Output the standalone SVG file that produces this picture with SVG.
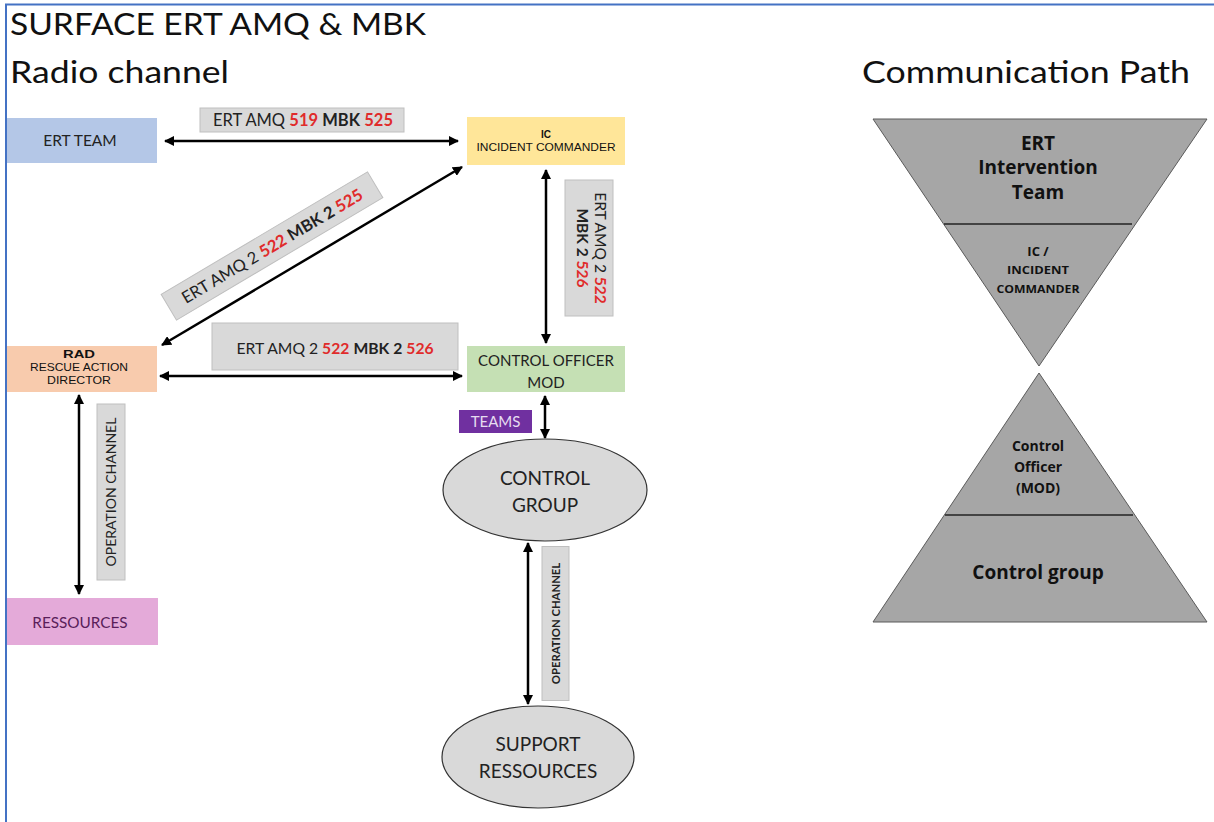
<svg xmlns="http://www.w3.org/2000/svg" width="1214" height="822" viewBox="0 0 1214 822">
<defs>
<marker id="ah" viewBox="0 0 10 10" refX="9" refY="5" markerWidth="4" markerHeight="4" orient="auto-start-reverse" markerUnits="strokeWidth">
<path d="M0,0 L10,5 L0,10 z" fill="#000"/>
</marker>
<style>
.lato{font-family:Lato,"Open Sans","Liberation Sans",sans-serif}
.os{font-family:"Open Sans","Liberation Sans",sans-serif}
.ar{font-family:"Liberation Sans",Arial,sans-serif}
.lbl{fill:#d9d9d9;stroke:#bfbfbf;stroke-width:1}
.red{fill:#e02b2b;font-weight:bold}
.b{font-weight:bold}
.con{stroke:#000;stroke-width:2.5;fill:none;marker-start:url(#ah);marker-end:url(#ah)}
.tri{fill:#a6a6a6;stroke:#5a5a5a;stroke-width:1}
</style>
</defs>
<rect width="1214" height="822" fill="#fff"/>
<path d="M6,822 V4.5 H1214" fill="none" stroke="#4472c4" stroke-width="2"/>

<g id="titles" class="lato" fill="#111">
<text x="10" y="35" font-size="30" textLength="416" lengthAdjust="spacingAndGlyphs">SURFACE ERT AMQ &amp; MBK</text>
<text x="10" y="83" font-size="30" textLength="219" lengthAdjust="spacingAndGlyphs">Radio channel</text>
<text x="862" y="83" font-size="30" textLength="328" lengthAdjust="spacingAndGlyphs">Communication Path</text>
</g>

<g id="connectors">
<line class="con" x1="165" y1="141" x2="458" y2="141"/>
<line class="con" x1="162" y1="345" x2="462" y2="167"/>
<line class="con" x1="546" y1="170" x2="546" y2="343"/>
<line class="con" x1="160" y1="376" x2="462" y2="376"/>
<line class="con" x1="545" y1="396" x2="545" y2="438"/>
<line class="con" x1="528" y1="543" x2="528" y2="704"/>
<line class="con" x1="79" y1="395" x2="79" y2="594"/>
</g>

<g id="label-erts" class="lato" font-size="16.5" fill="#222">
<rect class="lbl" x="200" y="108" width="204" height="24"/>
<text x="303" y="126" text-anchor="middle">ERT AMQ <tspan class="red">519</tspan> <tspan class="b">MBK</tspan>  <tspan class="red">525</tspan></text>
</g>

<g id="label-diag" class="lato" font-size="16.5" fill="#222" transform="translate(272,246) rotate(-30.7)">
<rect class="lbl" x="-120" y="-15" width="240" height="30"/>
<text x="0" y="6" text-anchor="middle">ERT AMQ 2 <tspan class="red">522</tspan> <tspan class="b">MBK 2</tspan> <tspan class="red">525</tspan></text>
</g>

<g id="label-icco" class="lato" font-size="15.5" fill="#222" transform="translate(589,248) rotate(90)">
<rect class="lbl" x="-68" y="-24" width="136" height="48"/>
<text x="0" y="-6" text-anchor="middle">ERT AMQ 2 <tspan class="red">522</tspan></text>
<text x="0" y="12" text-anchor="middle"><tspan class="b">MBK 2</tspan> <tspan class="red">526</tspan></text>
</g>

<g id="label-radco" class="lato" font-size="15.7" fill="#222">
<rect class="lbl" x="212" y="323" width="246" height="47"/>
<text x="335" y="354" text-anchor="middle">ERT AMQ 2 <tspan class="red">522</tspan> <tspan class="b">MBK 2</tspan> <tspan class="red">526</tspan></text>
</g>

<g id="label-op1" class="lato" font-size="14" fill="#222" transform="translate(111,492) rotate(-90)">
<rect class="lbl" x="-88" y="-14" width="176" height="28"/>
<text x="0" y="5" text-anchor="middle">OPERATION CHANNEL</text>
</g>

<g id="label-op2" class="lato" font-size="11.3" fill="#222" font-weight="bold" transform="translate(555.5,623.5) rotate(-90)">
<rect class="lbl" x="-77" y="-13.5" width="154" height="27"/>
<text x="0" y="4" text-anchor="middle">OPERATION CHANNEL</text>
</g>

<g id="ert-team">
<rect x="7" y="118" width="150" height="45" fill="#b4c7e7"/>
<text class="lato" x="80" y="146" font-size="15.5" fill="#222" text-anchor="middle">ERT TEAM</text>
</g>

<g id="ic">
<rect x="467" y="117" width="158" height="48" fill="#ffe699"/>
<text class="ar" x="546" y="138" font-size="10" font-weight="bold" fill="#111" text-anchor="middle">IC</text>
<text class="ar" x="546" y="151" font-size="10.5" fill="#111" text-anchor="middle" textLength="139" lengthAdjust="spacingAndGlyphs">INCIDENT COMMANDER</text>
</g>

<g id="rad">
<rect x="7" y="346" width="150" height="46" fill="#f8cbad"/>
<text class="ar" x="79" y="358" font-size="10" font-weight="bold" fill="#111" text-anchor="middle" textLength="32" lengthAdjust="spacingAndGlyphs">RAD</text>
<text class="ar" x="79" y="371" font-size="10.5" fill="#111" text-anchor="middle" textLength="98" lengthAdjust="spacingAndGlyphs">RESCUE ACTION</text>
<text class="ar" x="79" y="384" font-size="10.5" fill="#111" text-anchor="middle" textLength="64" lengthAdjust="spacingAndGlyphs">DIRECTOR</text>
</g>

<g id="control-officer">
<rect x="467" y="346" width="158" height="46" fill="#c5e0b4"/>
<text class="lato" x="546" y="366" font-size="15" fill="#222" text-anchor="middle">CONTROL OFFICER</text>
<text class="lato" x="546" y="388" font-size="15" fill="#222" text-anchor="middle">MOD</text>
</g>

<g id="teams">
<rect x="459" y="410" width="73" height="23" fill="#7030a0"/>
<text class="lato" x="495.5" y="427" font-size="15" fill="#e6dcf0" text-anchor="middle">TEAMS</text>
</g>

<g id="control-group">
<ellipse cx="545" cy="490" rx="102" ry="51" fill="#d9d9d9" stroke="#333" stroke-width="1.2"/>
<text class="lato" x="545" y="485" font-size="19" fill="#222" text-anchor="middle">CONTROL</text>
<text class="lato" x="545" y="512" font-size="19" fill="#222" text-anchor="middle">GROUP</text>
</g>

<g id="support-ressources">
<ellipse cx="538" cy="757" rx="96" ry="51" fill="#d9d9d9" stroke="#333" stroke-width="1.2"/>
<text class="lato" x="538" y="751" font-size="19" fill="#222" text-anchor="middle">SUPPORT</text>
<text class="lato" x="538" y="778" font-size="19" fill="#222" text-anchor="middle">RESSOURCES</text>
</g>

<g id="ressources">
<rect x="7" y="598" width="151" height="47" fill="#e4aad9"/>
<text class="lato" x="80" y="628" font-size="15.3" fill="#5a1e5a" text-anchor="middle">RESSOURCES</text>
</g>

<g id="path-top" class="os" fill="#111" text-anchor="middle">
<polygon class="tri" points="873,119 1207,119 1039,366"/>
<line x1="944" y1="224" x2="1132" y2="224" stroke="#222" stroke-width="1.3"/>
<text x="1038" y="150" font-size="19" font-weight="bold">ERT</text>
<text x="1038" y="174" font-size="19" font-weight="bold">Intervention</text>
<text x="1038" y="199" font-size="19" font-weight="bold">Team</text>
<text x="1038" y="256" font-size="13" font-weight="bold">IC /</text>
<text x="1038" y="274" font-size="10.5" font-weight="bold" textLength="62" lengthAdjust="spacingAndGlyphs">INCIDENT</text>
<text x="1038" y="293" font-size="10.5" font-weight="bold" textLength="83" lengthAdjust="spacingAndGlyphs">COMMANDER</text>
</g>

<g id="path-bottom" class="os" fill="#111" text-anchor="middle">
<polygon class="tri" points="1039,373 1207,622 873,622"/>
<line x1="945" y1="515" x2="1133" y2="515" stroke="#222" stroke-width="1.3"/>
<text x="1038" y="451" font-size="14" font-weight="bold">Control</text>
<text x="1038" y="472" font-size="14" font-weight="bold">Officer</text>
<text x="1038" y="493" font-size="14" font-weight="bold">(MOD)</text>
<text x="1038" y="579" font-size="19" font-weight="bold">Control group</text>
</g>
</svg>
